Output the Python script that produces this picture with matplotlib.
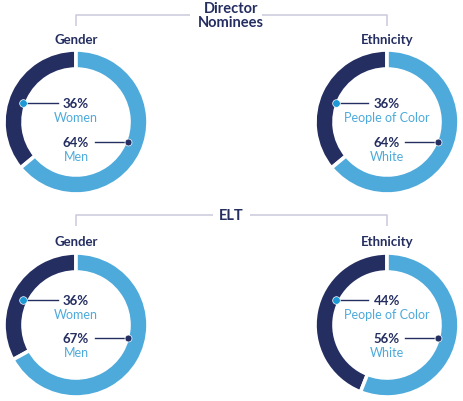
import matplotlib
matplotlib.use("Agg")
import matplotlib.pyplot as plt

# ---- data ----
sections = ["Director\nNominees", "ELT"]
chart_titles = ["Gender", "Ethnicity"]
group_labels = [["Women", "Men"], ["People of Color", "White"]]
# wedge shares (dark first, then light) as drawn
director_values = [[36, 64], [36, 64]]
elt_values = [[33, 67], [44, 56]]
# label texts as printed
director_pct_labels = [["36%", "64%"], ["36%", "64%"]]
elt_pct_labels = [["36%", "67%"], ["44%", "56%"]]

DARK = "#252e61"
LIGHT = "#4eaadb"
DOT_LIGHT = "#1d9ad6"
BRACKET = "#c9c9dc"
W, H = 463, 402

plt.rcParams['font.family'] = ['Lato', 'DejaVu Sans']

fig = plt.figure(figsize=(W / 100, H / 100), dpi=100)
ax = fig.add_axes([0, 0, 1, 1])


def Y(py):
    return H - py


cx = [76, 387]
rows = [
    dict(values=director_values, pcts=director_pct_labels, title=sections[0],
         cy=123, title_y=16, sub_y=40, top_y=104, bot_y=143),
    dict(values=elt_values, pcts=elt_pct_labels, title=sections[1],
         cy=326, title_y=216, sub_y=242, top_y=301, bot_y=339),
]
R = 72
WIDTH = 19

for r in rows:
    # bracket
    by = r['title_y']
    ax.plot([cx[0], cx[0], 190 if '\n' in r['title'] else 213],
            [Y(by + 11), Y(by), Y(by)], color=BRACKET, lw=1.1, solid_capstyle='butt')
    ax.plot([262 if '\n' in r['title'] else 250, cx[1], cx[1]],
            [Y(by), Y(by), Y(by + 11)], color=BRACKET, lw=1.1, solid_capstyle='butt')
    ax.text(231, Y(by), r['title'], ha='center', va='center', fontsize=10.5,
            fontweight='bold', color=DARK, linespacing=1.05)
    for i in range(2):
        vals = r['values'][i]
        ax.pie(vals, colors=[DARK, LIGHT], startangle=90, counterclock=True,
               center=(cx[i], Y(r['cy'])), radius=R,
               wedgeprops=dict(width=WIDTH, edgecolor='white', linewidth=2.6),
               frame=True)
        ax.text(cx[i], Y(r['sub_y']), chart_titles[i], ha='center', va='center',
                fontsize=9.5, fontweight='bold', color=DARK)
        # top label (dark segment)
        ax.text(cx[i], Y(r['top_y']), r['pcts'][i][0], ha='center', va='center',
                fontsize=9.5, fontweight='bold', color=DARK)
        ax.text(cx[i], Y(r['top_y'] + 14), group_labels[i][0], ha='center', va='center',
                fontsize=9, color=LIGHT)
        ax.text(cx[i], Y(r['bot_y']), r['pcts'][i][1], ha='center', va='center',
                fontsize=9.5, fontweight='bold', color=DARK)
        ax.text(cx[i], Y(r['bot_y'] + 14), group_labels[i][1], ha='center', va='center',
                fontsize=9, color=LIGHT)
        # leader lines
        if i == 0:
            l0, l1 = cx[i] - 53, cx[i] - 18
            b0, b1 = cx[i] + 19, cx[i] + 52
        else:
            l0, l1 = cx[i] - 51, cx[i] - 19
            b0, b1 = cx[i] + 18, cx[i] + 51
        ax.plot([l0, l1], [Y(r['top_y'])] * 2, color=DARK, lw=1.0)
        ax.plot([l0], [Y(r['top_y'])], 'o', color=DOT_LIGHT, ms=5.5, mec='white', mew=0.5)
        ax.plot([b0, b1], [Y(r['bot_y'])] * 2, color=DARK, lw=1.0)
        ax.plot([b1], [Y(r['bot_y'])], 'o', color=DARK, ms=5, mec='white', mew=0.5)

ax.set_xlim(0, W)
ax.set_ylim(0, H)
ax.set_aspect('equal')
ax.axis('off')
fig.savefig("out.png", dpi=100, facecolor='white')
